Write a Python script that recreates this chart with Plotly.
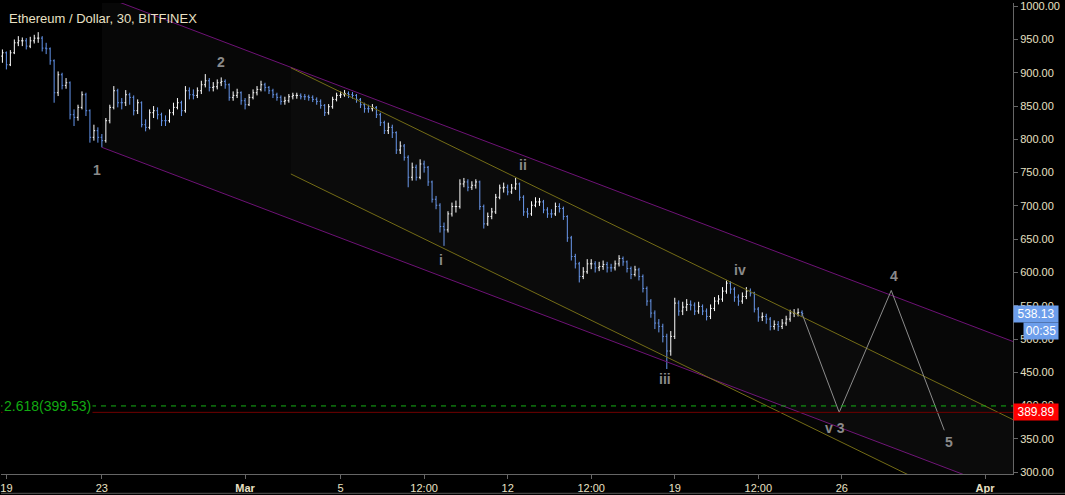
import pandas as pd
import plotly.graph_objects as go

BG = "#000000"
TXT = "#e9e0c4"
UP = "#ffffff"
DOWN = "#6495ed"

# ETH/USD Bitfinex, resampled to 4h bars
BAR_START = "2018-02-18 20:00"
first_open = 925
closes = [930, 912, 930, 945, 948, 948, 940, 948, 952, 952,
          937, 936, 918, 870, 897, 881, 885, 837, 833, 848,
          867, 843, 803, 813, 803, 798, 828, 848, 873, 855,
          855, 867, 863, 843, 855, 822, 818, 840, 843, 837,
          828, 828, 840, 848, 855, 843, 873, 867, 866, 873,
          882, 888, 878, 879, 885, 887, 882, 863, 866, 870,
          858, 852, 863, 870, 875, 882, 878, 873, 867, 863,
          857, 858, 864, 866, 866, 864, 864, 863, 860, 857,
          851, 840, 849, 860, 866, 867, 869, 867, 866, 860,
          852, 846, 846, 848, 837, 825, 813, 818, 810, 784,
          790, 773, 743, 758, 743, 763, 758, 736, 710, 701,
          669, 664, 688, 699, 699, 733, 736, 728, 731, 736,
          699, 673, 684, 691, 713, 727, 728, 721, 727, 733,
          713, 691, 688, 701, 706, 706, 694, 688, 688, 699,
          696, 684, 652, 624, 613, 594, 601, 613, 613, 607,
          609, 612, 607, 607, 613, 621, 616, 606, 597, 604,
          594, 576, 557, 539, 524, 519, 504, 482, 504, 554,
          542, 548, 552, 551, 542, 549, 542, 534, 546, 557,
          560, 572, 584, 575, 563, 557, 564, 572, 569, 545,
          533, 534, 530, 519, 522, 519, 524, 530, 539, 539,
          540, 538.13]
highs = [935, 932, 934, 950, 955, 953, 952, 954, 957, 961,
         955, 945, 938, 920, 902, 900, 892, 887, 845, 852,
         872, 870, 845, 822, 818, 808, 832, 852, 880, 876,
         862, 874, 870, 866, 860, 857, 830, 845, 850, 848,
         840, 836, 845, 855, 862, 858, 880, 878, 875, 878,
         888, 898, 892, 886, 890, 893, 890, 884, 872, 876,
         872, 862, 868, 875, 880, 888, 885, 880, 876, 870,
         866, 864, 868, 870, 870, 869, 868, 867, 866, 863,
         860, 853, 853, 864, 870, 872, 874, 872, 871, 868,
         862, 855, 852, 853, 850, 840, 828, 825, 822, 812,
         797, 793, 776, 765, 762, 770, 768, 760, 738, 715,
         704, 675, 692, 705, 708, 740, 742, 740, 737, 740,
         738, 702, 690, 697, 718, 732, 735, 732, 733, 742,
         735, 716, 697, 707, 713, 712, 709, 698, 695, 705,
         704, 699, 686, 655, 628, 616, 608, 620, 620, 617,
         616, 618, 616, 613, 618, 626, 624, 618, 609, 610,
         607, 597, 579, 560, 543, 530, 523, 508, 512, 562,
         558, 556, 560, 558, 555, 556, 552, 546, 552, 563,
         566, 578, 588, 587, 578, 567, 570, 578, 576, 571,
         548, 540, 538, 533, 528, 527, 530, 535, 544, 545,
         546, 543]
lows = [915, 905, 910, 928, 940, 940, 935, 937, 944, 945,
        932, 928, 912, 855, 865, 875, 876, 830, 820, 828,
        845, 835, 795, 798, 795, 788, 795, 824, 845, 848,
        845, 850, 852, 836, 838, 818, 812, 815, 832, 830,
        820, 820, 825, 836, 845, 835, 840, 860, 860, 862,
        868, 878, 872, 872, 875, 880, 876, 858, 858, 862,
        852, 845, 850, 860, 866, 872, 872, 868, 862, 858,
        852, 852, 855, 860, 861, 860, 859, 858, 856, 852,
        846, 835, 837, 846, 857, 862, 864, 862, 861, 855,
        847, 840, 840, 842, 832, 820, 808, 808, 802, 778,
        778, 768, 728, 738, 738, 740, 750, 730, 705, 695,
        660, 640, 660, 684, 690, 696, 728, 722, 724, 726,
        694, 666, 670, 680, 688, 710, 720, 716, 718, 724,
        708, 685, 682, 685, 698, 700, 689, 682, 682, 685,
        690, 679, 646, 618, 606, 585, 590, 598, 605, 600,
        602, 604, 600, 601, 603, 609, 610, 600, 590, 594,
        588, 570, 550, 532, 515, 510, 495, 455, 475, 500,
        535, 536, 542, 543, 536, 538, 536, 528, 530, 542,
        552, 556, 568, 568, 556, 550, 553, 560, 564, 540,
        526, 527, 523, 513, 514, 512, 515, 520, 526, 533,
        534, 534]
opens = [first_open] + closes[:-1]
times = pd.date_range(BAR_START, periods=len(closes), freq="4h")

# drawings
purple_dates = ["2018-02-23 00:00", "2018-04-03 00:00"]
purple_lower = [788, 257]
purple_upper = [1016, 485]
yellow_dates = ["2018-03-02 22:00", "2018-04-03 00:00"]
yellow_upper = [907.5, 364.5]
yellow_lower = [748, 205]

proj_dates = [times[-1], "2018-03-25 21:20", "2018-03-28 01:40", "2018-03-30 07:00"]
proj_prices = [closes[-1], 389.89, 573, 363]

wave_text = ["1", "2", "i", "ii", "iii", "iv", "v 3", "4", "5"]
wave_dates = ["2018-02-22 19:00", "2018-02-27 23:30", "2018-03-09 04:30",
              "2018-03-12 15:00", "2018-03-18 14:40", "2018-03-21 18:00",
              "2018-03-25 17:20", "2018-03-28 04:50", "2018-03-30 12:00"]
wave_prices = [754, 916, 619, 761, 440, 604, 367, 594, 346]

fib_level = 399.53
target_level = 389.89

tick_dates = ["2018-02-19", "2018-02-23", "2018-03-01", "2018-03-05",
              "2018-03-08 12:00", "2018-03-12", "2018-03-15 12:00", "2018-03-19",
              "2018-03-22 12:00", "2018-03-26", "2018-04-01"]
tick_labels = ["19", "23", "<b>Mar</b>", "5", "12:00", "12", "12:00", "19",
               "12:00", "26", "<b>Apr</b>"]
price_ticks = list(range(300, 1001, 50))

fig = go.Figure()


def channel(dates, lo, hi, fillcolor, linecolor):
    fig.add_trace(go.Scatter(x=[dates[0], dates[1], dates[1], dates[0]],
                             y=[lo[0], lo[1], hi[1], hi[0]],
                             fill="toself", fillcolor=fillcolor, mode="none",
                             hoverinfo="skip"))
    for ys in (lo, hi):
        fig.add_trace(go.Scatter(x=dates, y=ys, mode="lines",
                                 line=dict(color=linecolor, width=1), hoverinfo="skip"))


channel(purple_dates, purple_lower, purple_upper, "rgba(255,255,255,0.028)", "#6e1276")
channel(yellow_dates, yellow_lower, yellow_upper, "rgba(255,255,255,0.018)", "#746c16")

fig.add_trace(go.Ohlc(
    x=times, open=opens, high=highs, low=lows, close=closes,
    increasing=dict(line=dict(color=UP, width=1)),
    decreasing=dict(line=dict(color=DOWN, width=1)),
    tickwidth=0.3,
))

fig.add_trace(go.Scatter(x=proj_dates, y=proj_prices, mode="lines",
                         line=dict(color="#8c8c8c", width=1), hoverinfo="skip"))

fig.add_hline(y=fib_level, line=dict(color="#16b016", width=1, dash="5px,5px"))
fig.add_hline(y=target_level, line=dict(color="#700000", width=1))

for t, d, p in zip(wave_text, wave_dates, wave_prices):
    fig.add_annotation(x=d, y=p, text=t, showarrow=False,
                       font=dict(family="Arial", size=14, color="#8a8a8a", weight="bold"))

fig.add_annotation(xref="paper", x=0, xanchor="left", xshift=1, y=fib_level,
                   text="2.618(399.53)", showarrow=False, bgcolor=BG,
                   font=dict(family="Arial", size=14, color="#12aa12"))
fig.add_annotation(xref="paper", yref="paper", x=0, y=1, xanchor="left", yanchor="top",
                   xshift=6, yshift=-6, text="Ethereum / Dollar, 30, BITFINEX",
                   showarrow=False, font=dict(family="Arial", size=13, color=TXT))

# price boxes on the right axis
fig.add_annotation(xref="paper", x=1, xanchor="left", y=closes[-1], text="538.13",
                   showarrow=False, bgcolor="#6d9eeb", width=42, height=14,
                   font=dict(family="Arial", size=12, color="#ffffff"))
fig.add_annotation(xref="paper", x=1, xanchor="left", xshift=10, y=closes[-1], yshift=-17,
                   text="00:35", showarrow=False, bgcolor="#6d9eeb", width=32, height=14,
                   font=dict(family="Arial", size=12, color="#ffffff"))
fig.add_annotation(xref="paper", x=1, xanchor="left", y=target_level, text="389.89",
                   showarrow=False, bgcolor="#ff0000", width=42, height=14,
                   font=dict(family="Arial", size=12, color="#ffffff"))

fig.add_shape(type="line", xref="paper", yref="paper", x0=0, x1=1.06, y0=-0.041, y1=-0.041,
              line=dict(color="#555555", width=1))

fig.update_layout(
    width=1065, height=495,
    paper_bgcolor=BG, plot_bgcolor=BG,
    margin=dict(l=0, r=52, t=0, b=21),
    showlegend=False,
    xaxis=dict(type="date", range=["2018-02-18 18:35", "2018-04-02 04:05"],
               tickvals=tick_dates, ticktext=tick_labels, ticklabeloverflow="allow",
               tickfont=dict(family="Arial", size=11, color=TXT),
               showgrid=False, zeroline=False, showline=True, linecolor="#666666",
               ticks="outside", ticklen=4, tickcolor="#666666",
               rangeslider=dict(visible=False)),
    yaxis=dict(side="right", range=[297.29, 1004.79], tickvals=price_ticks, tickformat=".2f",
               ticklabeloverflow="allow",
               tickfont=dict(family="Arial", size=11, color=TXT),
               showgrid=False, zeroline=False, showline=True, linecolor="#666666",
               ticks="outside", ticklen=4, tickcolor="#666666"),
)

fig.write_html("out.html", config={"displayModeBar": False},
               post_script="document.body.style.margin='0px';")
